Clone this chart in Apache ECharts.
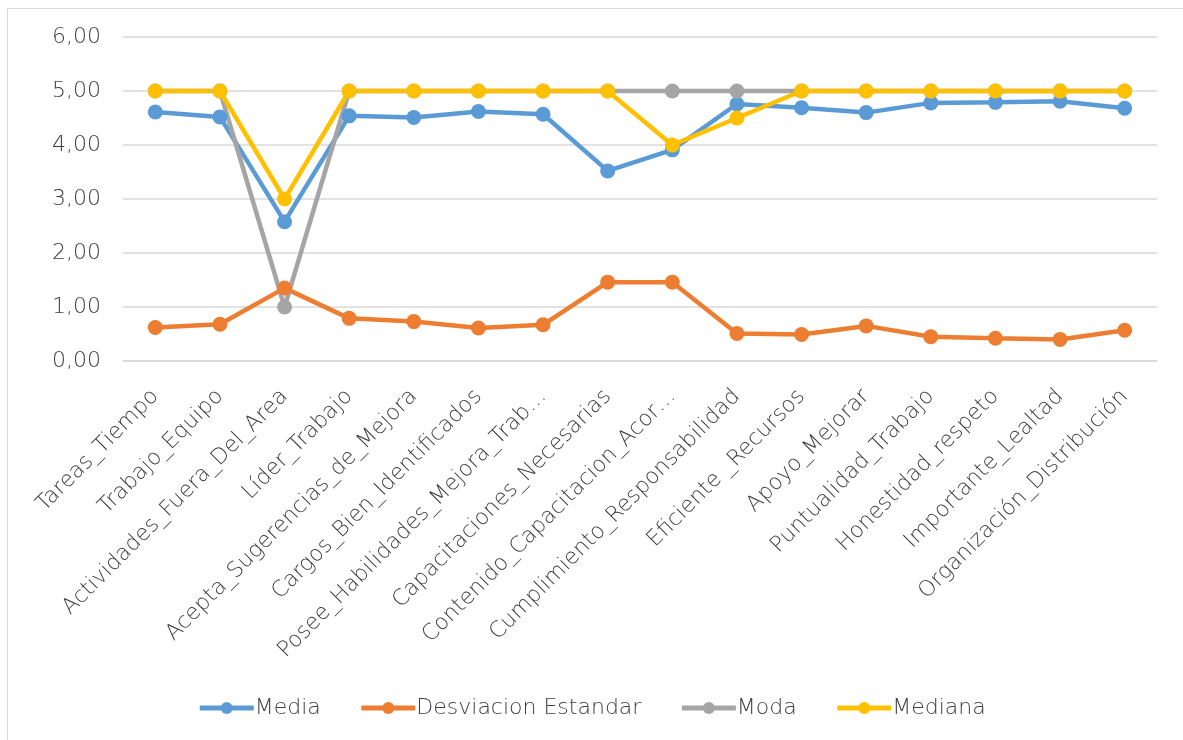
<!DOCTYPE html>
<html>
<head>
<meta charset="utf-8">
<script src="https://cdn.jsdelivr.net/npm/echarts@6/dist/echarts.min.js"></script>
<style>
  html, body { margin: 0; padding: 0; background: #fff; }
  #frame { position: absolute; left: 7px; top: 8px; width: 1180px; height: 740px;
           border-left: 1px solid #d9d9d9; border-top: 1px solid #d9d9d9; }
  #chart { position: absolute; left: 0; top: 0; width: 1183px; height: 740px; }
</style>
</head>
<body>
<div id="frame"></div>
<div id="chart"></div>
<script>
// Indicadores por pregunta de la encuesta
const categories = [
  'Tareas_Tiempo', 'Trabajo_Equipo', 'Actividades_Fuera_Del_Area', 'Líder_Trabajo',
  'Acepta_Sugerencias_de_Mejora', 'Cargos_Bien_Identificados', 'Posee_Habilidades_Mejora_Trab…',
  'Capacitaciones_Necesarias', 'Contenido_Capacitacion_Acor…', 'Cumplimiento_Responsabilidad',
  'Eficiente _Recursos', 'Apoyo_Mejorar', 'Puntualidad_Trabajo', 'Honestidad_respeto',
  'Importante_Lealtad', 'Organización_Distribución'
];
const media      = [4.61, 4.52, 2.58, 4.54, 4.51, 4.62, 4.57, 3.52, 3.91, 4.76, 4.69, 4.60, 4.78, 4.79, 4.81, 4.68];
const desviacion = [0.62, 0.68, 1.35, 0.79, 0.73, 0.61, 0.67, 1.46, 1.46, 0.51, 0.49, 0.65, 0.45, 0.42, 0.40, 0.57];
const moda       = [5, 5, 1, 5, 5, 5, 5, 5, 5, 5, 5, 5, 5, 5, 5, 5];
const mediana    = [5, 5, 3, 5, 5, 5, 5, 5, 4, 4.5, 5, 5, 5, 5, 5, 5];
const yTicks = { min: 0, max: 6, interval: 1 };

const FONT = '"DejaVu Sans", sans-serif';
const TEXT = '#404040';
const FS = 22;

function lineSeries(name, data, color) {
  return {
    name, type: 'line', data,
    symbol: 'circle', symbolSize: 15,
    lineStyle: { width: 4.5, color },
    itemStyle: { color },
    emphasis: { disabled: true },
    animation: false
  };
}

const chart = echarts.init(document.getElementById('chart'), null, { renderer: 'canvas' });
chart.setOption({
  backgroundColor: 'transparent',
  textStyle: { fontFamily: FONT },
  grid: { left: 123, right: 26, top: 37, bottom: 379, containLabel: false },
  xAxis: {
    type: 'category', data: categories, boundaryGap: true,
    axisLine: { show: true, lineStyle: { color: '#d9d9d9', width: 1.5 } },
    axisTick: { show: false },
    axisLabel: {
      rotate: 45, interval: 0, margin: 32,
      color: TEXT, fontSize: FS, fontFamily: FONT, fontWeight: 300
    }
  },
  yAxis: {
    type: 'value', min: yTicks.min, max: yTicks.max, interval: yTicks.interval,
    axisLine: { show: false }, axisTick: { show: false },
    splitLine: { lineStyle: { color: '#d9d9d9', width: 1.5 } },
    axisLabel: {
      color: TEXT, fontSize: FS, fontFamily: FONT, fontWeight: 300, margin: 22,
      formatter: v => v.toFixed(2).replace('.', ',')
    }
  },
  legend: {
    bottom: 16, left: 'center', itemGap: 38, itemWidth: 54, itemHeight: 15,
    lineStyle: { width: 5 },
    textStyle: { color: TEXT, fontSize: FS, fontFamily: FONT, fontWeight: 300, padding: [0, 0, 0, -4] },
    data: ['Media', 'Desviacion Estandar', 'Moda', 'Mediana']
  },
  series: [
    lineSeries('Media', media, '#5b9bd5'),
    lineSeries('Desviacion Estandar', desviacion, '#ed7d31'),
    lineSeries('Moda', moda, '#a5a5a5'),
    lineSeries('Mediana', mediana, '#ffc000')
  ]
});
</script>
</body>
</html>
